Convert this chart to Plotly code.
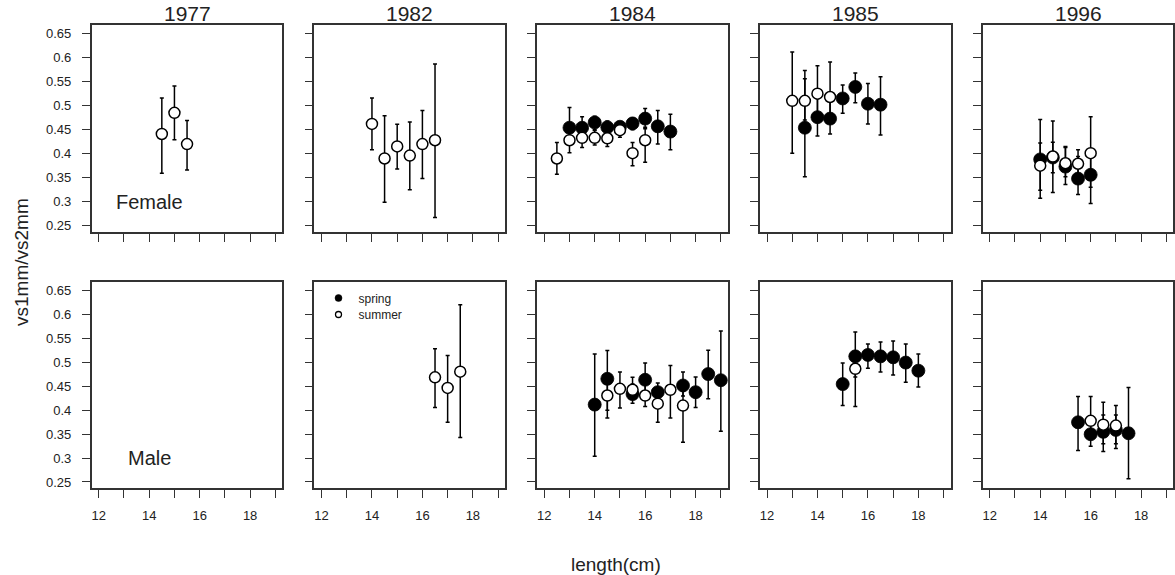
import plotly.graph_objects as go

# ---------------- data (length in cm, vs1mm/vs2mm mean, lower, upper) ----------------
YEARS = ["1977", "1982", "1984", "1985", "1996"]
SEXES = ["Female", "Male"]
X_TICKS = [12, 13, 14, 15, 16, 17, 18, 19]
X_TICK_TEXT = ["12", "", "14", "", "16", "", "18", ""]
Y_TICKS = [0.25, 0.3, 0.35, 0.4, 0.45, 0.5, 0.55, 0.6, 0.65]
Y_TICK_TEXT = ["0.25", "0.3", "0.35", "0.4", "0.45", "0.5", "0.55", "0.6", "0.65"]

# Female 1977
F77_SUM_X = [14.5, 15, 15.5]
F77_SUM_Y = [0.441, 0.485, 0.420]
F77_SUM_LO = [0.359, 0.429, 0.366]
F77_SUM_HI = [0.516, 0.541, 0.469]

# Female 1982
F82_SUM_X = [14, 14.5, 15, 15.5, 16, 16.5]
F82_SUM_Y = [0.462, 0.390, 0.415, 0.396, 0.420, 0.428]
F82_SUM_LO = [0.408, 0.299, 0.368, 0.325, 0.348, 0.267]
F82_SUM_HI = [0.516, 0.479, 0.461, 0.466, 0.490, 0.587]

# Female 1984
F84_SPR_X = [13, 13.5, 14, 14.5, 15, 15.5, 16, 16.5, 17]
F84_SPR_Y = [0.454, 0.454, 0.465, 0.455, 0.456, 0.463, 0.473, 0.457, 0.446]
F84_SPR_LO = [0.420, 0.430, 0.450, 0.440, 0.445, 0.450, 0.452, 0.420, 0.408]
F84_SPR_HI = [0.496, 0.477, 0.478, 0.468, 0.466, 0.475, 0.494, 0.490, 0.482]
F84_SUM_X = [12.5, 13, 13.5, 14, 14.5, 15, 15.5, 16]
F84_SUM_Y = [0.390, 0.428, 0.433, 0.433, 0.432, 0.449, 0.401, 0.428]
F84_SUM_LO = [0.357, 0.402, 0.413, 0.418, 0.415, 0.434, 0.375, 0.382]
F84_SUM_HI = [0.423, 0.450, 0.450, 0.448, 0.450, 0.466, 0.423, 0.455]

# Female 1985
F85_SPR_X = [13.5, 14, 14.5, 15, 15.5, 16, 16.5]
F85_SPR_Y = [0.454, 0.476, 0.473, 0.515, 0.539, 0.504, 0.502]
F85_SPR_LO = [0.352, 0.437, 0.441, 0.484, 0.506, 0.462, 0.439]
F85_SPR_HI = [0.556, 0.515, 0.515, 0.543, 0.568, 0.546, 0.560]
F85_SUM_X = [13, 13.5, 14, 14.5]
F85_SUM_Y = [0.510, 0.510, 0.525, 0.518]
F85_SUM_LO = [0.401, 0.470, 0.480, 0.470]
F85_SUM_HI = [0.612, 0.573, 0.583, 0.591]

# Female 1996
F96_SPR_X = [14, 14.5, 15, 15.5, 16]
F96_SPR_Y = [0.388, 0.392, 0.373, 0.348, 0.356]
F96_SPR_LO = [0.324, 0.360, 0.336, 0.315, 0.296]
F96_SPR_HI = [0.422, 0.424, 0.415, 0.394, 0.400]
F96_SUM_X = [14, 14.5, 15, 15.5, 16]
F96_SUM_Y = [0.375, 0.394, 0.380, 0.379, 0.401]
F96_SUM_LO = [0.307, 0.319, 0.352, 0.345, 0.330]
F96_SUM_HI = [0.471, 0.468, 0.413, 0.408, 0.477]

# Male 1982
M82_SUM_X = [16.5, 17, 17.5]
M82_SUM_Y = [0.469, 0.447, 0.481]
M82_SUM_LO = [0.406, 0.375, 0.343]
M82_SUM_HI = [0.529, 0.515, 0.621]

# Male 1984
M84_SPR_X = [14, 14.5, 15.5, 16, 16.5, 17.5, 18, 18.5, 19]
M84_SPR_Y = [0.412, 0.466, 0.434, 0.464, 0.438, 0.452, 0.438, 0.476, 0.463]
M84_SPR_LO = [0.304, 0.384, 0.415, 0.430, 0.420, 0.430, 0.406, 0.424, 0.356]
M84_SPR_HI = [0.518, 0.525, 0.455, 0.499, 0.457, 0.480, 0.470, 0.526, 0.566]
M84_SUM_X = [14.5, 15, 15.5, 16, 16.5, 17, 17.5]
M84_SUM_Y = [0.431, 0.445, 0.443, 0.431, 0.414, 0.443, 0.410]
M84_SUM_LO = [0.400, 0.405, 0.425, 0.408, 0.375, 0.384, 0.333]
M84_SUM_HI = [0.455, 0.480, 0.469, 0.455, 0.440, 0.494, 0.440]

# Male 1985
M85_SPR_X = [15, 15.5, 16, 16.5, 17, 17.5, 18]
M85_SPR_Y = [0.455, 0.513, 0.516, 0.513, 0.511, 0.500, 0.483]
M85_SPR_LO = [0.410, 0.470, 0.488, 0.480, 0.474, 0.459, 0.449]
M85_SPR_HI = [0.499, 0.564, 0.539, 0.543, 0.545, 0.539, 0.518]
M85_SUM_X = [15.5]
M85_SUM_Y = [0.487]
M85_SUM_LO = [0.408]
M85_SUM_HI = [0.510]

# Male 1996
M96_SPR_X = [15.5, 16, 16.5, 17, 17.5]
M96_SPR_Y = [0.375, 0.350, 0.355, 0.359, 0.352]
M96_SPR_LO = [0.316, 0.325, 0.314, 0.320, 0.257]
M96_SPR_HI = [0.429, 0.380, 0.390, 0.390, 0.448]
M96_SUM_X = [16, 16.5, 17]
M96_SUM_Y = [0.378, 0.370, 0.368]
M96_SUM_LO = [0.340, 0.330, 0.330]
M96_SUM_HI = [0.429, 0.417, 0.410]

# (row, col, season, x, y, lo, hi)
SERIES = [
    (0, 0, "summer", F77_SUM_X, F77_SUM_Y, F77_SUM_LO, F77_SUM_HI),
    (0, 1, "summer", F82_SUM_X, F82_SUM_Y, F82_SUM_LO, F82_SUM_HI),
    (0, 2, "spring", F84_SPR_X, F84_SPR_Y, F84_SPR_LO, F84_SPR_HI),
    (0, 2, "summer", F84_SUM_X, F84_SUM_Y, F84_SUM_LO, F84_SUM_HI),
    (0, 3, "spring", F85_SPR_X, F85_SPR_Y, F85_SPR_LO, F85_SPR_HI),
    (0, 3, "summer", F85_SUM_X, F85_SUM_Y, F85_SUM_LO, F85_SUM_HI),
    (0, 4, "spring", F96_SPR_X, F96_SPR_Y, F96_SPR_LO, F96_SPR_HI),
    (0, 4, "summer", F96_SUM_X, F96_SUM_Y, F96_SUM_LO, F96_SUM_HI),
    (1, 1, "summer", M82_SUM_X, M82_SUM_Y, M82_SUM_LO, M82_SUM_HI),
    (1, 2, "spring", M84_SPR_X, M84_SPR_Y, M84_SPR_LO, M84_SPR_HI),
    (1, 2, "summer", M84_SUM_X, M84_SUM_Y, M84_SUM_LO, M84_SUM_HI),
    (1, 3, "spring", M85_SPR_X, M85_SPR_Y, M85_SPR_LO, M85_SPR_HI),
    (1, 3, "summer", M85_SUM_X, M85_SUM_Y, M85_SUM_LO, M85_SUM_HI),
    (1, 4, "spring", M96_SPR_X, M96_SPR_Y, M96_SPR_LO, M96_SPR_HI),
    (1, 4, "summer", M96_SUM_X, M96_SUM_Y, M96_SUM_LO, M96_SUM_HI),
]

# ---------------- layout geometry ----------------
W, H = 1175, 575
FONT = "Liberation Sans, Arial, sans-serif"
INK = "#222222"
COL_LEFT = [91.7, 314.45, 537.2, 759.95, 982.7]
PANEL_W = 190.7
ROW_TB = [(25.0, 232.0), (282.3, 488.3)]
X_RANGE = [11.72, 19.28]
Y_RANGE = [0.2368, 0.668]


def px_x(p):
    return p / W


def px_y(p):
    return 1 - p / H


def ax_id(r, c):
    return r * 5 + c + 1


fig = go.Figure()

layout = dict(
    width=W, height=H,
    margin=dict(l=0, r=0, t=0, b=0),
    paper_bgcolor="white", plot_bgcolor="white",
    font=dict(family=FONT, color=INK),
    showlegend=True,
)

for r in range(2):
    top, bot = ROW_TB[r]
    for c in range(5):
        k = ax_id(r, c)
        left = COL_LEFT[c]
        xa = dict(
            domain=[px_x(left), px_x(left + PANEL_W)], range=X_RANGE,
            anchor=f"y{k}", tickmode="array", tickvals=X_TICKS, ticktext=X_TICK_TEXT,
            showticklabels=(r == 1), ticks="outside", ticklen=8, tickwidth=1.3,
            tickcolor="#333", showline=True, linecolor="#333", linewidth=1.5,
            mirror=True, showgrid=False, zeroline=False, ticklabelstandoff=6,
            tickfont=dict(size=13, family=FONT, color=INK), fixedrange=True,
        )
        ya = dict(
            domain=[px_y(bot), px_y(top)], range=Y_RANGE,
            anchor=f"x{k}", tickmode="array", tickvals=Y_TICKS, ticktext=Y_TICK_TEXT,
            showticklabels=(c == 0), ticks="outside", ticklen=8, tickwidth=1.3,
            tickcolor="#333", showline=True, linecolor="#333", linewidth=1.5,
            mirror=True, showgrid=False, zeroline=False, ticklabelstandoff=8,
            tickfont=dict(size=13, family=FONT, color=INK), fixedrange=True,
        )
        layout["xaxis" if k == 1 else f"xaxis{k}"] = xa
        layout["yaxis" if k == 1 else f"yaxis{k}"] = ya

STYLE = {
    "spring": dict(color="black", size=13, line=dict(color="black", width=0.8)),
    "summer": dict(color="white", size=11, line=dict(color="black", width=1.5)),
}

for (r, c, season, xs, ys, los, his) in SERIES:
    k = ax_id(r, c)
    fig.add_trace(go.Scatter(
        x=xs, y=ys, mode="markers", name=season, showlegend=False,
        xaxis=f"x{k}", yaxis=f"y{k}",
        marker=dict(symbol="circle", **STYLE[season]),
        error_y=dict(type="data", symmetric=False,
                     array=[h - y for h, y in zip(his, ys)],
                     arrayminus=[y - l for l, y in zip(los, ys)],
                     color="black", thickness=1.5, width=2),
        hoverinfo="x+y",
    ))

# legend entries (Male 1982 panel)
fig.add_trace(go.Scatter(x=[None], y=[None], mode="markers", name="spring",
                         xaxis="x7", yaxis="y7", legend="legend",
                         marker=dict(color="black", size=7, line=dict(color="black", width=0.5))))
fig.add_trace(go.Scatter(x=[None], y=[None], mode="markers", name="summer",
                         xaxis="x7", yaxis="y7", legend="legend2",
                         marker=dict(color="white", size=6, line=dict(color="black", width=1.3))))

leg_common = dict(xanchor="left", yanchor="middle", bgcolor="rgba(0,0,0,0)",
                  borderwidth=0, font=dict(size=12, family=FONT, color=INK),
                  itemclick=False, itemdoubleclick=False)
layout["legend"] = dict(x=px_x(318.5), y=px_y(298.0), **leg_common)
layout["legend2"] = dict(x=px_x(318.5), y=px_y(314.5), **leg_common)

annotations = []
for c, yr in enumerate(YEARS):
    annotations.append(dict(
        text=yr, xref="paper", yref="paper",
        x=px_x(COL_LEFT[c] + PANEL_W / 2), y=px_y(14),
        xanchor="center", yanchor="middle", showarrow=False,
        font=dict(size=21, family=FONT, color=INK)))

annotations.append(dict(text=SEXES[0], xref="x", yref="y", x=14, y=0.3,
                        showarrow=False, xanchor="center", yanchor="middle",
                        font=dict(size=20, family=FONT, color=INK)))
annotations.append(dict(text=SEXES[1], xref="x6", yref="y6", x=14, y=0.3,
                        showarrow=False, xanchor="center", yanchor="middle",
                        font=dict(size=20, family=FONT, color=INK)))
annotations.append(dict(text="vs1mm/vs2mm", xref="paper", yref="paper",
                        x=px_x(21), y=px_y(262), textangle=-90,
                        xanchor="center", yanchor="middle", showarrow=False,
                        font=dict(size=19, family=FONT, color=INK)))
annotations.append(dict(text="length(cm)", xref="paper", yref="paper",
                        x=px_x(616), y=px_y(564),
                        xanchor="center", yanchor="middle", showarrow=False,
                        font=dict(size=19, family=FONT, color=INK)))
layout["annotations"] = annotations

fig.update_layout(**layout)
fig.write_html("out.html", config={"displayModeBar": False})
